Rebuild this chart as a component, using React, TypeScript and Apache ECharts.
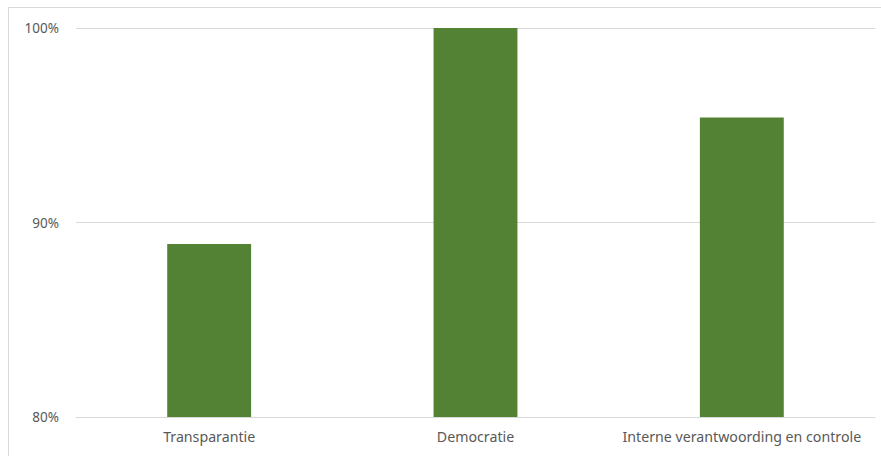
import React, { useEffect, useRef } from "react";
import * as echarts from "echarts";

const categories = ["Transparantie", "Democratie", "Interne verantwoording en controle"];
const values = [88.9, 100, 95.4];
const yTicks = { min: 80, max: 100, interval: 10 };

export default function App() {
  const ref = useRef<HTMLDivElement>(null);
  useEffect(() => {
    if (!ref.current) return;
    const chart = echarts.init(ref.current, null, { renderer: "svg" });
    chart.setOption({
      animation: false,
      graphic: [
        {
          type: "rect",
          shape: { x: 8.5, y: 7.5, width: 900, height: 500 },
          style: { fill: "none", stroke: "#d9d9d9", lineWidth: 1 },
          silent: true,
        },
      ],
      grid: { left: 76, right: 6, top: 28, bottom: 39 },
      xAxis: {
        type: "category",
        data: categories,
        axisLine: { show: true, lineStyle: { color: "#d9d9d9", width: 1 } },
        axisTick: { show: false },
        axisLabel: {
          color: "#595959",
          fontFamily: "Noto Sans",
          fontSize: 14.2,
          margin: 12,
          interval: 0,
        },
      },
      yAxis: {
        type: "value",
        min: yTicks.min,
        max: yTicks.max,
        interval: yTicks.interval,
        axisLine: { show: false },
        axisTick: { show: false },
        splitLine: { lineStyle: { color: "#d9d9d9", width: 1 } },
        axisLabel: {
          color: "#595959",
          fontFamily: "Noto Sans",
          fontSize: 13.5,
          margin: 17,
          formatter: "{value}%",
        },
      },
      series: [
        {
          type: "bar",
          data: values,
          barWidth: "31.5%",
          itemStyle: { color: "#548235" },
        },
      ],
    });
    return () => chart.dispose();
  }, []);
  return (
    <div
      ref={ref}
      style={{ position: "fixed", left: 0, top: 0, width: 881, height: 456, background: "#fff" }}
    />
  );
}
